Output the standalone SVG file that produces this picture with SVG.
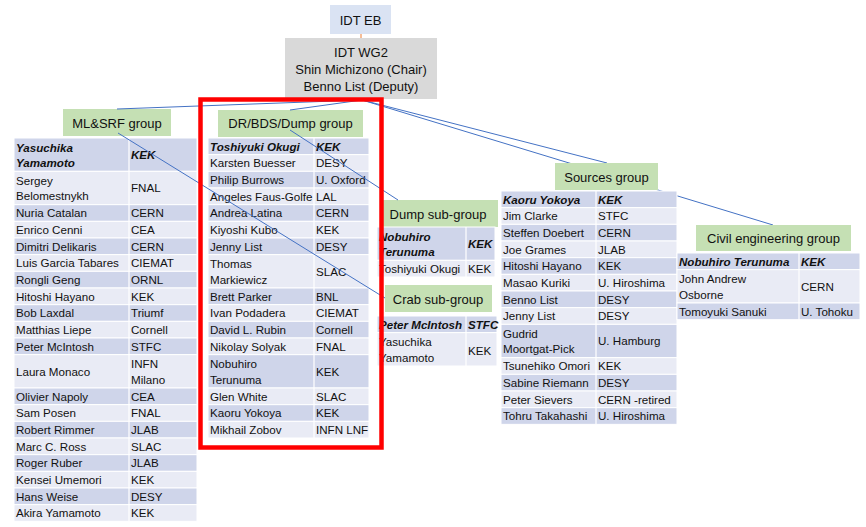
<svg xmlns="http://www.w3.org/2000/svg" width="866" height="527" viewBox="0 0 866 527">
<style>
text{font-family:"Liberation Sans",Arial,sans-serif;fill:#111}
.t{font-size:11.6px}
.b{font-weight:bold;font-style:italic}
.g{font-size:13px;text-anchor:middle}
.hd{fill:#cfd5ea;stroke:#fff;stroke-width:1}
.lt{fill:#e9ebf5;stroke:#fff;stroke-width:1}
.box{fill:#c5e0b4}
.sep{stroke:#fff;stroke-width:1.2}
.conn{stroke:#4472c4;stroke-width:1;fill:none}
</style>
<rect width="866" height="527" fill="#fff"/>

<g id="idt-eb">
<rect x="330" y="5" width="61" height="29" fill="#dae3f3"/>
<text class="g" x="360.5" y="25">IDT EB</text>
</g>
<line x1="361" y1="34" x2="361" y2="38" stroke="#ed7d31" stroke-width="1"/>
<g id="idt-wg2">
<rect x="285" y="38" width="152" height="61" fill="#d9d9d9"/>
<text class="g" x="361" y="57">IDT WG2</text>
<text class="g" x="361" y="74">Shin Michizono (Chair)</text>
<text class="g" x="361" y="91">Benno List (Deputy)</text>
</g>

<g id="ml-srf">
<rect class="box" x="63" y="109" width="108" height="27"/>
<text class="g" x="117" y="127.5">ML&amp;SRF group</text>
<rect class="hd" x="14" y="138" width="183" height="33.33"/>
<rect class="lt" x="14" y="171.33" width="183" height="33.33"/>
<rect class="hd" x="14" y="204.67" width="183" height="16.67"/>
<rect class="lt" x="14" y="221.33" width="183" height="16.67"/>
<rect class="hd" x="14" y="238" width="183" height="16.67"/>
<rect class="lt" x="14" y="254.67" width="183" height="16.67"/>
<rect class="hd" x="14" y="271.33" width="183" height="16.67"/>
<rect class="lt" x="14" y="288" width="183" height="16.67"/>
<rect class="hd" x="14" y="304.67" width="183" height="16.67"/>
<rect class="lt" x="14" y="321.33" width="183" height="16.67"/>
<rect class="hd" x="14" y="338" width="183" height="16.67"/>
<rect class="lt" x="14" y="354.67" width="183" height="33.33"/>
<rect class="hd" x="14" y="388" width="183" height="16.67"/>
<rect class="lt" x="14" y="404.67" width="183" height="16.67"/>
<rect class="hd" x="14" y="421.33" width="183" height="16.67"/>
<rect class="lt" x="14" y="438" width="183" height="16.67"/>
<rect class="hd" x="14" y="454.67" width="183" height="16.67"/>
<rect class="lt" x="14" y="471.33" width="183" height="16.67"/>
<rect class="hd" x="14" y="488" width="183" height="16.67"/>
<rect class="lt" x="14" y="504.67" width="183" height="16.67"/>
<line class="sep" x1="129" y1="138" x2="129" y2="521.33"/>
<text class="t b" x="16" y="151.5">Yasuchika</text>
<text class="t b" x="16" y="167">Yamamoto</text>
<text class="t b" x="131" y="158.9">KEK</text>
<text class="t" x="16" y="184.8">Sergey</text>
<text class="t" x="16" y="200.3">Belomestnykh</text>
<text class="t" x="131" y="192.2">FNAL</text>
<text class="t" x="16" y="217.3">Nuria Catalan</text><text class="t" x="131" y="217.3">CERN</text>
<text class="t" x="16" y="233.9">Enrico Cenni</text><text class="t" x="131" y="233.9">CEA</text>
<text class="t" x="16" y="250.6">Dimitri Delikaris</text><text class="t" x="131" y="250.6">CERN</text>
<text class="t" x="16" y="267.3">Luis Garcia Tabares</text><text class="t" x="131" y="267.3">CIEMAT</text>
<text class="t" x="16" y="283.9">Rongli Geng</text><text class="t" x="131" y="283.9">ORNL</text>
<text class="t" x="16" y="300.6">Hitoshi Hayano</text><text class="t" x="131" y="300.6">KEK</text>
<text class="t" x="16" y="317.3">Bob Laxdal</text><text class="t" x="131" y="317.3">Triumf</text>
<text class="t" x="16" y="333.9">Matthias Liepe</text><text class="t" x="131" y="333.9">Cornell</text>
<text class="t" x="16" y="350.6">Peter McIntosh</text><text class="t" x="131" y="350.6">STFC</text>
<text class="t" x="16" y="375.6">Laura Monaco</text>
<text class="t" x="131" y="368.2">INFN</text>
<text class="t" x="131" y="383.7">Milano</text>
<text class="t" x="16" y="400.6">Olivier Napoly</text><text class="t" x="131" y="400.6">CEA</text>
<text class="t" x="16" y="417.3">Sam Posen</text><text class="t" x="131" y="417.3">FNAL</text>
<text class="t" x="16" y="433.9">Robert Rimmer</text><text class="t" x="131" y="433.9">JLAB</text>
<text class="t" x="16" y="450.6">Marc C. Ross</text><text class="t" x="131" y="450.6">SLAC</text>
<text class="t" x="16" y="467.3">Roger Ruber</text><text class="t" x="131" y="467.3">JLAB</text>
<text class="t" x="16" y="483.9">Kensei Umemori</text><text class="t" x="131" y="483.9">KEK</text>
<text class="t" x="16" y="500.6">Hans Weise</text><text class="t" x="131" y="500.6">DESY</text>
<text class="t" x="16" y="517.3">Akira Yamamoto</text><text class="t" x="131" y="517.3">KEK</text>
</g>

<g id="dr-bds-dump">
<rect class="box" x="218" y="110" width="145" height="27"/>
<text class="g" x="290.5" y="128">DR/BDS/Dump group</text>
<rect class="hd" x="208" y="138" width="161" height="16.67"/>
<rect class="lt" x="208" y="154.67" width="161" height="16.67"/>
<rect class="hd" x="208" y="171.33" width="161" height="16.67"/>
<rect class="lt" x="208" y="188" width="161" height="16.67"/>
<rect class="hd" x="208" y="204.67" width="161" height="16.67"/>
<rect class="lt" x="208" y="221.33" width="161" height="16.67"/>
<rect class="hd" x="208" y="238" width="161" height="16.67"/>
<rect class="lt" x="208" y="254.67" width="161" height="33.33"/>
<rect class="hd" x="208" y="288" width="161" height="16.67"/>
<rect class="lt" x="208" y="304.67" width="161" height="16.67"/>
<rect class="hd" x="208" y="321.33" width="161" height="16.67"/>
<rect class="lt" x="208" y="338" width="161" height="16.67"/>
<rect class="hd" x="208" y="354.67" width="161" height="33.33"/>
<rect class="lt" x="208" y="388" width="161" height="16.67"/>
<rect class="hd" x="208" y="404.67" width="161" height="16.67"/>
<rect class="lt" x="208" y="421.33" width="161" height="16.67"/>
<line class="sep" x1="314" y1="138" x2="314" y2="438"/>
<text class="t b" x="210" y="150.6">Toshiyuki Okugi</text><text class="t b" x="316" y="150.6">KEK</text>
<text class="t" x="210" y="167.3">Karsten Buesser</text><text class="t" x="316" y="167.3">DESY</text>
<text class="t" x="210" y="183.9">Philip Burrows</text><text class="t" x="316" y="183.9">U. Oxford</text>
<text class="t" x="210" y="200.6">Angeles Faus-Golfe</text><text class="t" x="316" y="200.6">LAL</text>
<text class="t" x="210" y="217.3">Andrea Latina</text><text class="t" x="316" y="217.3">CERN</text>
<text class="t" x="210" y="233.9">Kiyoshi Kubo</text><text class="t" x="316" y="233.9">KEK</text>
<text class="t" x="210" y="250.6">Jenny List</text><text class="t" x="316" y="250.6">DESY</text>
<text class="t" x="210" y="268.2">Thomas</text>
<text class="t" x="210" y="283.7">Markiewicz</text>
<text class="t" x="316" y="275.6">SLAC</text>
<text class="t" x="210" y="300.6">Brett Parker</text><text class="t" x="316" y="300.6">BNL</text>
<text class="t" x="210" y="317.3">Ivan Podadera</text><text class="t" x="316" y="317.3">CIEMAT</text>
<text class="t" x="210" y="333.9">David L. Rubin</text><text class="t" x="316" y="333.9">Cornell</text>
<text class="t" x="210" y="350.6">Nikolay Solyak</text><text class="t" x="316" y="350.6">FNAL</text>
<text class="t" x="210" y="368.2">Nobuhiro</text>
<text class="t" x="210" y="383.7">Terunuma</text>
<text class="t" x="316" y="375.6">KEK</text>
<text class="t" x="210" y="400.6">Glen White</text><text class="t" x="316" y="400.6">SLAC</text>
<text class="t" x="210" y="417.3">Kaoru Yokoya</text><text class="t" x="316" y="417.3">KEK</text>
<text class="t" x="210" y="433.9">Mikhail Zobov</text><text class="t" x="316" y="433.9">INFN LNF</text>
</g>

<g id="dump-sub">
<rect class="box" x="380" y="200" width="118" height="27"/>
<text class="g" x="438" y="218.5">Dump sub-group</text>
<rect class="hd" x="377" y="227" width="118" height="33.33"/>
<rect class="lt" x="377" y="260.33" width="118" height="16.67"/>
<line class="sep" x1="466" y1="227" x2="466" y2="277"/>
<text class="t b" x="379" y="240.5">Nobuhiro</text>
<text class="t b" x="379" y="256">Terunuma</text>
<text class="t b" x="468" y="247.9">KEK</text>
<text class="t" x="379" y="272.9">Toshiyuki Okugi</text><text class="t" x="468" y="272.9">KEK</text>
</g>

<g id="crab-sub">
<rect class="box" x="385" y="285" width="107" height="27"/>
<text class="g" x="438" y="303.5">Crab sub-group</text>
<rect class="hd" x="377" y="316" width="120" height="16.67"/>
<rect class="lt" x="377" y="332.67" width="120" height="33.33"/>
<line class="sep" x1="466" y1="316" x2="466" y2="366"/>
<text class="t b" x="379" y="328.6">Peter McIntosh</text><text class="t b" x="468" y="328.6">STFC</text>
<text class="t" x="379" y="346.2">Yasuchika</text>
<text class="t" x="379" y="361.7">Yamamoto</text>
<text class="t" x="468" y="354.6">KEK</text>
</g>

<g id="connectors">
<line class="conn" x1="362" y1="100" x2="117" y2="109"/>
<line class="conn" x1="362" y1="100" x2="290" y2="110"/>
<line class="conn" x1="362" y1="100" x2="607" y2="163"/>
<line class="conn" x1="362" y1="100" x2="773" y2="225"/>
<line class="conn" x1="118" y1="133" x2="385" y2="298"/>
<line class="conn" x1="290" y1="130" x2="398" y2="200"/>
</g>

<g id="sources">
<rect class="box" x="555" y="163" width="103" height="27"/>
<text class="g" x="606.5" y="181.5">Sources group</text>
<rect class="hd" x="501" y="191" width="176" height="16.67"/>
<rect class="lt" x="501" y="207.67" width="176" height="16.67"/>
<rect class="hd" x="501" y="224.33" width="176" height="16.67"/>
<rect class="lt" x="501" y="241" width="176" height="16.67"/>
<rect class="hd" x="501" y="257.67" width="176" height="16.67"/>
<rect class="lt" x="501" y="274.33" width="176" height="16.67"/>
<rect class="hd" x="501" y="291" width="176" height="16.67"/>
<rect class="lt" x="501" y="307.67" width="176" height="16.67"/>
<rect class="hd" x="501" y="324.33" width="176" height="33.33"/>
<rect class="lt" x="501" y="357.67" width="176" height="16.67"/>
<rect class="hd" x="501" y="374.33" width="176" height="16.67"/>
<rect class="lt" x="501" y="391" width="176" height="16.67"/>
<rect class="hd" x="501" y="407.67" width="176" height="16.67"/>
<line class="sep" x1="596" y1="191" x2="596" y2="424.33"/>
<text class="t b" x="503" y="203.6">Kaoru Yokoya</text><text class="t b" x="598" y="203.6">KEK</text>
<text class="t" x="503" y="220.3">Jim Clarke</text><text class="t" x="598" y="220.3">STFC</text>
<text class="t" x="503" y="236.9">Steffen Doebert</text><text class="t" x="598" y="236.9">CERN</text>
<text class="t" x="503" y="253.6">Joe Grames</text><text class="t" x="598" y="253.6">JLAB</text>
<text class="t" x="503" y="270.3">Hitoshi Hayano</text><text class="t" x="598" y="270.3">KEK</text>
<text class="t" x="503" y="286.9">Masao Kuriki</text><text class="t" x="598" y="286.9">U. Hiroshima</text>
<text class="t" x="503" y="303.6">Benno List</text><text class="t" x="598" y="303.6">DESY</text>
<text class="t" x="503" y="320.3">Jenny List</text><text class="t" x="598" y="320.3">DESY</text>
<text class="t" x="503" y="337.8">Gudrid</text>
<text class="t" x="503" y="353.3">Moortgat-Pick</text>
<text class="t" x="598" y="345.2">U. Hamburg</text>
<text class="t" x="503" y="370.3">Tsunehiko Omori</text><text class="t" x="598" y="370.3">KEK</text>
<text class="t" x="503" y="386.9">Sabine Riemann</text><text class="t" x="598" y="386.9">DESY</text>
<text class="t" x="503" y="403.6">Peter Sievers</text><text class="t" x="598" y="403.6">CERN -retired</text>
<text class="t" x="503" y="420.3">Tohru Takahashi</text><text class="t" x="598" y="420.3">U. Hiroshima</text>
</g>

<g id="civil">
<rect class="box" x="696" y="225" width="155" height="26"/>
<text class="g" x="773.5" y="243">Civil engineering group</text>
<rect class="hd" x="677" y="253" width="183" height="16.67"/>
<rect class="lt" x="677" y="269.67" width="183" height="33.33"/>
<rect class="hd" x="677" y="303" width="183" height="16.67"/>
<line class="sep" x1="799" y1="253" x2="799" y2="319.67"/>
<text class="t b" x="679" y="265.6">Nobuhiro Terunuma</text><text class="t b" x="801" y="265.6">KEK</text>
<text class="t" x="679" y="283.2">John Andrew</text>
<text class="t" x="679" y="298.7">Osborne</text>
<text class="t" x="801" y="290.6">CERN</text>
<text class="t" x="679" y="315.6">Tomoyuki Sanuki</text><text class="t" x="801" y="315.6">U. Tohoku</text>
</g>

<rect id="highlight" x="200.5" y="99.5" width="181" height="348" fill="none" stroke="#ff0000" stroke-width="4.5"/>
</svg>
